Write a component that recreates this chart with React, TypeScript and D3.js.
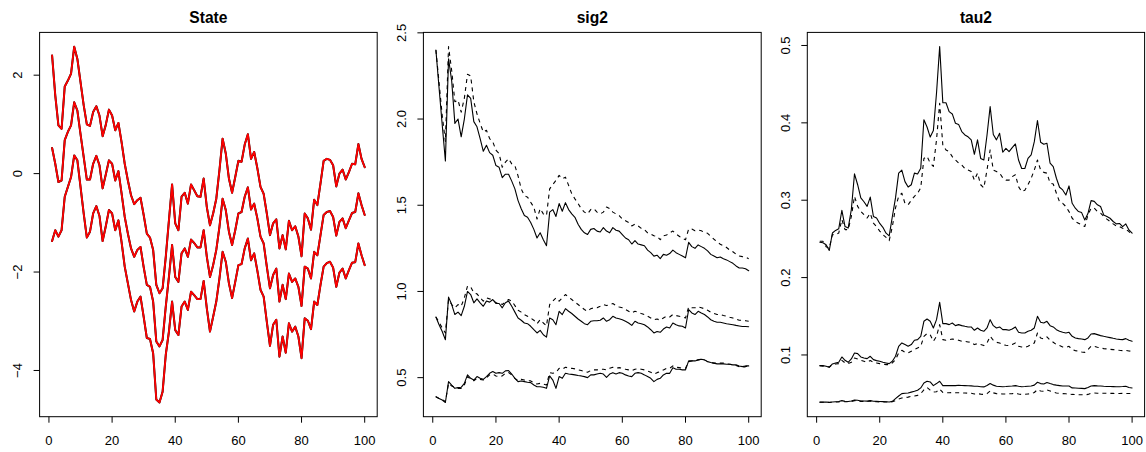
import React from 'react';
import * as d3 from 'd3';

// ---------- data ----------
const xTicks = [0, 20, 40, 60, 80, 100];

const stateUpper = [2.4,1.59,0.98,0.91,1.77,1.89,2.03,2.58,2.33,1.86,
1.39,1.0,0.97,1.25,1.37,1.18,0.76,0.99,1.3,1.18,
0.88,1.03,0.64,0.2,-0.14,-0.44,-0.62,-0.54,-0.49,-0.84,
-1.22,-1.3,-1.55,-2.26,-2.43,-2.33,-1.69,-0.95,-0.22,-1.01,
-1.15,-0.47,-0.39,-0.61,-0.22,-0.34,-0.46,-0.47,-0.1,-0.68,
-1.05,-0.81,-0.51,0.07,0.71,0.41,-0.1,-0.39,-0.07,0.26,
0.24,0.59,0.8,0.3,0.44,0.11,-0.27,-0.41,-0.81,-1.25,
-1.01,-0.93,-1.52,-1.25,-1.54,-0.96,-1.15,-1.07,-1.28,-1.68,
-0.81,-0.91,-1.14,-0.53,-0.64,-0.2,0.26,0.3,0.28,0.17,
-0.26,0.0,0.08,-0.12,0.03,0.2,0.19,0.6,0.3,0.13];

const stateMid = [0.52,0.2,-0.17,-0.14,0.68,0.85,0.98,1.45,1.28,0.8,
0.34,-0.12,-0.12,0.2,0.36,0.17,-0.3,-0.02,0.27,0.2,
-0.14,0.05,-0.4,-0.88,-1.22,-1.52,-1.69,-1.55,-1.49,-1.9,
-2.26,-2.3,-2.6,-3.41,-3.51,-3.38,-2.7,-2.1,-1.45,-2.1,
-2.2,-1.62,-1.52,-1.69,-1.34,-1.41,-1.5,-1.5,-1.15,-1.69,
-2.1,-1.86,-1.55,-1.08,-0.51,-0.74,-1.18,-1.45,-1.15,-0.81,
-0.78,-0.47,-0.28,-0.73,-0.61,-0.91,-1.28,-1.42,-1.89,-2.33,
-2.06,-1.93,-2.6,-2.26,-2.55,-2.03,-2.2,-2.13,-2.3,-2.69,
-1.89,-1.93,-2.13,-1.59,-1.66,-1.25,-0.84,-0.78,-0.76,-0.88,
-1.26,-0.98,-0.91,-1.11,-0.95,-0.8,-0.78,-0.4,-0.64,-0.84];

const stateLower = [-1.37,-1.15,-1.28,-1.15,-0.47,-0.27,-0.07,0.37,0.27,-0.27,
-0.81,-1.3,-1.18,-0.81,-0.66,-0.86,-1.37,-1.07,-0.74,-0.81,
-1.15,-0.95,-1.39,-1.89,-2.23,-2.57,-2.8,-2.6,-2.5,-2.91,
-3.34,-3.36,-3.65,-4.59,-4.65,-4.43,-3.68,-3.21,-2.6,-3.18,
-3.28,-2.7,-2.6,-2.77,-2.4,-2.47,-2.55,-2.55,-2.18,-2.74,
-3.21,-2.91,-2.6,-2.13,-1.59,-1.79,-2.23,-2.53,-2.2,-1.86,
-1.84,-1.52,-1.32,-1.76,-1.62,-1.97,-2.36,-2.5,-3.01,-3.5,
-3.07,-2.97,-3.72,-3.31,-3.64,-3.04,-3.21,-3.11,-3.31,-3.75,
-2.94,-2.99,-3.16,-2.6,-2.67,-2.26,-1.89,-1.82,-1.79,-1.91,
-2.3,-2.01,-1.93,-2.13,-1.96,-1.81,-1.8,-1.42,-1.66,-1.86];

const sig2UpperSolid = [2.40,2.18,1.965,1.757,2.35,2.22,1.975,2.0,1.897,2.0,
2.14,2.12,1.985,1.955,1.887,1.813,1.848,1.805,1.79,1.73,
1.72,1.66,1.68,1.68,1.64,1.595,1.527,1.48,1.44,1.43,
1.40,1.36,1.31,1.34,1.30,1.265,1.46,1.475,1.435,1.51,
1.465,1.515,1.475,1.45,1.43,1.39,1.36,1.34,1.33,1.36,
1.365,1.35,1.345,1.37,1.35,1.34,1.37,1.355,1.35,1.33,
1.31,1.30,1.275,1.295,1.275,1.27,1.265,1.24,1.225,1.205,
1.21,1.19,1.215,1.21,1.22,1.24,1.225,1.215,1.205,1.195,
1.285,1.26,1.25,1.27,1.26,1.25,1.235,1.215,1.205,1.195,
1.2,1.19,1.183,1.173,1.163,1.148,1.136,1.136,1.132,1.12];

const sig2UpperDashed = [2.40,2.21,2.02,1.87,2.42,2.28,2.1,2.11,2.04,2.12,
2.26,2.25,2.1,2.03,1.975,1.925,1.935,1.887,1.868,1.82,
1.80,1.72,1.75,1.77,1.74,1.73,1.67,1.595,1.556,1.547,
1.517,1.488,1.42,1.48,1.45,1.44,1.595,1.62,1.644,1.673,
1.654,1.663,1.615,1.566,1.537,1.51,1.48,1.46,1.45,1.475,
1.48,1.46,1.45,1.46,1.49,1.48,1.46,1.45,1.44,1.42,
1.41,1.40,1.38,1.39,1.38,1.366,1.358,1.34,1.333,1.323,
1.32,1.30,1.323,1.327,1.34,1.35,1.333,1.32,1.307,1.30,
1.362,1.362,1.352,1.356,1.352,1.342,1.337,1.32,1.303,1.288,
1.274,1.265,1.255,1.24,1.23,1.216,1.206,1.202,1.2,1.19];

const sig2MidSolid = [0.852,0.807,0.768,0.72,0.967,0.924,0.866,0.88,0.86,0.914,
1.0,0.982,0.934,0.957,0.934,0.914,0.944,0.938,0.953,0.93,
0.93,0.905,0.934,0.944,0.914,0.88,0.846,0.833,0.817,0.813,
0.798,0.778,0.759,0.774,0.749,0.735,0.846,0.836,0.807,0.885,
0.866,0.9,0.885,0.872,0.856,0.84,0.827,0.813,0.807,0.827,
0.83,0.83,0.833,0.846,0.827,0.836,0.856,0.846,0.842,0.836,
0.827,0.817,0.803,0.827,0.817,0.813,0.807,0.794,0.778,0.759,
0.768,0.763,0.782,0.794,0.788,0.817,0.807,0.8,0.798,0.788,
0.895,0.875,0.866,0.885,0.875,0.866,0.852,0.836,0.827,0.821,
0.821,0.817,0.813,0.81,0.807,0.803,0.8,0.797,0.797,0.795];

const sig2MidDashed = [0.852,0.821,0.788,0.759,0.953,0.924,0.905,0.924,0.914,0.963,
1.031,1.027,0.992,0.986,0.963,0.944,0.963,0.957,0.953,0.934,
0.934,0.924,0.938,0.953,0.944,0.918,0.891,0.88,0.866,0.856,
0.846,0.833,0.813,0.836,0.817,0.8,0.924,0.944,0.963,0.944,
0.963,0.982,0.967,0.953,0.938,0.924,0.91,0.895,0.885,0.9,
0.905,0.905,0.914,0.924,0.918,0.924,0.93,0.918,0.91,0.905,
0.895,0.885,0.875,0.885,0.88,0.872,0.866,0.856,0.846,0.836,
0.84,0.833,0.846,0.856,0.852,0.866,0.86,0.856,0.852,0.846,
0.91,0.905,0.905,0.91,0.905,0.9,0.891,0.88,0.872,0.866,
0.866,0.86,0.856,0.85,0.846,0.84,0.833,0.833,0.83,0.827];

const sig2LowSolid = [0.389,0.379,0.37,0.356,0.477,0.457,0.438,0.442,0.444,0.467,
0.516,0.496,0.486,0.506,0.496,0.49,0.506,0.525,0.535,0.525,
0.529,0.525,0.539,0.541,0.521,0.496,0.477,0.481,0.477,0.473,
0.471,0.457,0.447,0.447,0.444,0.438,0.51,0.486,0.438,0.506,
0.496,0.525,0.521,0.519,0.516,0.512,0.51,0.506,0.5,0.516,
0.516,0.521,0.525,0.521,0.502,0.521,0.529,0.521,0.529,0.525,
0.516,0.51,0.506,0.525,0.529,0.525,0.516,0.506,0.496,0.477,
0.49,0.496,0.516,0.525,0.525,0.558,0.549,0.549,0.545,0.545,
0.597,0.597,0.597,0.603,0.607,0.603,0.593,0.588,0.584,0.58,
0.58,0.58,0.578,0.578,0.574,0.574,0.568,0.564,0.568,0.568];

const sig2LowDashed = [0.389,0.379,0.374,0.36,0.467,0.451,0.444,0.438,0.438,0.457,
0.506,0.49,0.482,0.496,0.49,0.486,0.5,0.516,0.521,0.51,
0.506,0.51,0.525,0.529,0.516,0.496,0.482,0.49,0.486,0.482,
0.481,0.471,0.463,0.467,0.463,0.457,0.529,0.525,0.529,0.554,
0.549,0.56,0.556,0.554,0.551,0.545,0.541,0.535,0.531,0.541,
0.545,0.545,0.549,0.549,0.545,0.554,0.56,0.554,0.558,0.554,
0.549,0.545,0.541,0.549,0.551,0.549,0.545,0.539,0.531,0.521,
0.529,0.535,0.545,0.554,0.554,0.568,0.56,0.558,0.554,0.554,
0.593,0.597,0.599,0.603,0.607,0.603,0.593,0.588,0.584,0.584,
0.584,0.584,0.58,0.578,0.574,0.57,0.564,0.56,0.564,0.568];

const tau2UpperSolid = [0.2456,0.245,0.2425,0.235,0.2576,0.261,0.263,0.287,0.266,0.264,
0.288,0.334,0.32,0.303,0.298,0.292,0.304,0.279,0.277,0.27,
0.265,0.2574,0.2539,0.279,0.303,0.335,0.339,0.324,0.317,0.32,
0.335,0.334,0.3413,0.404,0.3946,0.3816,0.39,0.4385,0.4985,0.426,
0.426,0.4145,0.4115,0.3995,0.398,0.3887,0.3844,0.382,0.378,0.3594,
0.378,0.354,0.352,0.384,0.421,0.385,0.378,0.3865,0.362,0.367,
0.3628,0.368,0.3727,0.352,0.341,0.341,0.354,0.3585,0.3757,0.403,
0.375,0.3723,0.3736,0.348,0.3434,0.3284,0.3168,0.3133,0.3068,0.3185,
0.296,0.2897,0.2853,0.284,0.2745,0.2827,0.2995,0.2985,0.294,0.2918,
0.281,0.279,0.2767,0.2725,0.2694,0.270,0.2659,0.2694,0.2616,0.2574];

const tau2UpperDashed = [0.247,0.247,0.240,0.238,0.2555,0.2555,0.2576,0.275,0.262,0.262,
0.279,0.305,0.292,0.2856,0.2813,0.277,0.283,0.2705,0.266,0.26,
0.2555,0.252,0.2478,0.266,0.29,0.305,0.309,0.296,0.294,0.30,
0.305,0.309,0.316,0.354,0.3567,0.348,0.3437,0.378,0.4253,0.371,
0.365,0.3628,0.3563,0.352,0.348,0.3456,0.341,0.339,0.337,0.326,
0.335,0.32,0.316,0.339,0.365,0.339,0.337,0.335,0.329,0.326,
0.326,0.3305,0.333,0.3176,0.311,0.313,0.32,0.3284,0.339,0.352,
0.339,0.336,0.335,0.322,0.321,0.309,0.298,0.296,0.2918,0.2853,
0.2767,0.2725,0.2703,0.268,0.266,0.281,0.2897,0.2897,0.2853,0.2832,
0.279,0.2755,0.2725,0.2694,0.2668,0.266,0.2638,0.2625,0.2595,0.2552];

const tau2MidSolid = [0.0862,0.0862,0.0854,0.084,0.0884,0.0897,0.0905,0.0974,0.0931,0.0905,
0.0948,0.1026,0.1017,0.0974,0.0961,0.0953,0.0983,0.094,0.0927,0.0918,
0.0905,0.0897,0.0888,0.0918,0.0983,0.1112,0.1155,0.1134,0.1112,0.1134,
0.119,0.1198,0.1241,0.1435,0.1465,0.1435,0.1349,0.1456,0.168,0.1405,
0.1405,0.1392,0.1413,0.1379,0.1392,0.1379,0.137,0.1362,0.1362,0.1319,
0.1349,0.1319,0.1306,0.1349,0.1456,0.1379,0.1349,0.1362,0.1327,0.1327,
0.1319,0.1336,0.1362,0.1293,0.1284,0.1284,0.1306,0.1319,0.1349,0.15,
0.1422,0.1413,0.1435,0.1379,0.1362,0.1327,0.1306,0.1293,0.1284,0.1293,
0.1241,0.122,0.1211,0.1207,0.1198,0.122,0.1271,0.1276,0.1263,0.125,
0.1241,0.1233,0.1224,0.1215,0.1207,0.1202,0.1198,0.1211,0.119,0.1177];

const tau2MidDashed = [0.0862,0.0854,0.0854,0.0845,0.0875,0.0884,0.0888,0.0931,0.0897,0.0888,
0.0905,0.0961,0.0948,0.0931,0.0918,0.0905,0.0927,0.0905,0.0897,0.0888,
0.0884,0.0875,0.0875,0.0897,0.094,0.1026,0.106,0.1034,0.1026,0.1047,
0.1069,0.109,0.1112,0.1241,0.1276,0.1263,0.1177,0.1241,0.1392,0.1198,
0.119,0.1198,0.1207,0.1198,0.119,0.1177,0.1177,0.1168,0.1164,0.1134,
0.1146,0.1134,0.1121,0.1155,0.1241,0.119,0.1164,0.1155,0.1134,0.1125,
0.1121,0.1134,0.1155,0.1112,0.1103,0.1099,0.1112,0.1134,0.1155,0.1284,
0.122,0.1207,0.1233,0.119,0.1164,0.1134,0.1121,0.1103,0.1099,0.1112,
0.1069,0.1056,0.1047,0.1039,0.1034,0.1069,0.1112,0.1112,0.1099,0.109,
0.1082,0.1078,0.1073,0.1069,0.1065,0.106,0.1056,0.106,0.1052,0.1047];

const tau2LowSolid = [0.039,0.039,0.039,0.0388,0.0392,0.0395,0.0398,0.041,0.0402,0.0398,
0.0405,0.0418,0.0415,0.0405,0.0405,0.0403,0.041,0.0402,0.04,0.0398,
0.0397,0.0395,0.0392,0.040,0.0435,0.047,0.05,0.0505,0.0509,0.052,
0.053,0.0544,0.0574,0.0638,0.066,0.0651,0.0604,0.063,0.066,0.0604,
0.0604,0.0604,0.0606,0.0604,0.0608,0.0606,0.0604,0.0602,0.06,0.0595,
0.0595,0.059,0.0587,0.0605,0.063,0.061,0.0595,0.0593,0.059,0.0592,
0.0595,0.0598,0.0604,0.0595,0.059,0.0592,0.0595,0.0598,0.061,0.0647,
0.063,0.0625,0.0645,0.063,0.0617,0.061,0.0604,0.0598,0.0598,0.0598,
0.0574,0.0572,0.057,0.0568,0.0565,0.058,0.0598,0.0604,0.06,0.0598,
0.0595,0.0593,0.0592,0.0591,0.059,0.059,0.0592,0.0595,0.058,0.0574];

const tau2LowDashed = [0.0388,0.0388,0.0388,0.0386,0.039,0.0392,0.0394,0.0402,0.0396,0.0394,
0.0398,0.041,0.0408,0.04,0.04,0.0398,0.0405,0.0398,0.0396,0.0394,
0.0393,0.0392,0.039,0.0395,0.041,0.043,0.0444,0.0448,0.0455,0.0466,
0.047,0.0478,0.05,0.055,0.058,0.0545,0.052,0.0525,0.056,0.0515,
0.0512,0.0512,0.0514,0.0512,0.0512,0.051,0.0508,0.0506,0.0505,0.0496,
0.05,0.0494,0.049,0.05,0.0535,0.051,0.05,0.0498,0.0496,0.0496,
0.0498,0.05,0.0505,0.0496,0.049,0.0492,0.0496,0.05,0.0515,0.0552,
0.0535,0.053,0.0548,0.0535,0.052,0.0508,0.0505,0.05,0.0498,0.0496,
0.049,0.0488,0.0486,0.0486,0.0485,0.049,0.0505,0.0508,0.0506,0.0505,
0.0505,0.0504,0.0503,0.0503,0.0502,0.0502,0.0503,0.0503,0.0502,0.05];

const stateTicks = [-4, -2, 0, 2];
const sig2Ticks = [0.5, 1.0, 1.5, 2.0, 2.5];
const tau2Ticks = [0.1, 0.2, 0.3, 0.4, 0.5];

// ---------- drawing ----------
type Series = { values: number[]; color: string; width: number; dash?: string };

const FONT = '"Liberation Sans", Arial, Helvetica, sans-serif';
const TOP = 32.4;
const BOTTOM = 416.7;

function fmtTick(v: number, digits: number) {
  const s = v.toFixed(digits);
  return s.replace('-', '\u2212');
}

function Panel(props: { left: number; right: number; title: string; series: Series[]; yTicks: number[]; digits: number }) {
  const { left, right, title, series, yTicks, digits } = props;
  const all = series.flatMap((s) => s.values);
  const mn = d3.min(all) as number;
  const mx = d3.max(all) as number;
  const pad = (mx - mn) * 0.04;
  const x = d3.scaleLinear().domain([1 - 99 * 0.04, 100 + 99 * 0.04]).range([left, right]);
  const y = d3.scaleLinear().domain([mn - pad, mx + pad]).range([BOTTOM, TOP]);
  const line = d3
    .line<number>()
    .x((_, i) => x(i + 1))
    .y((d) => y(d));
  const cx = (left + right) / 2;
  return (
    <g>
      <text x={cx} y={22.5} textAnchor="middle" fontFamily={FONT} fontWeight="bold" fontSize={15.6} fill="#000">
        {title}
      </text>
      {series.map((s, i) => (
        <path
          key={i}
          d={line(s.values) || ''}
          fill="none"
          stroke={s.color}
          strokeWidth={s.width}
          strokeDasharray={s.dash}
          strokeLinejoin="round"
          strokeLinecap={s.dash ? 'butt' : 'round'}
        />
      ))}
      <rect x={left} y={TOP} width={right - left} height={BOTTOM - TOP} fill="none" stroke="#000" strokeWidth={1} />
      {xTicks.map((t) => (
        <g key={'x' + t}>
          <line x1={x(t)} x2={x(t)} y1={BOTTOM} y2={BOTTOM + 6} stroke="#000" strokeWidth={1} />
          <text x={x(t)} y={445} textAnchor="middle" fontFamily={FONT} fontSize={13} fill="#000">
            {String(t)}
          </text>
        </g>
      ))}
      {yTicks.map((t) => (
        <g key={'y' + t}>
          <line x1={left - 6} x2={left} y1={y(t)} y2={y(t)} stroke="#000" strokeWidth={1} />
          <text
            x={left - 17.6}
            y={y(t)}
            transform={`rotate(-90, ${left - 17.6}, ${y(t)})`}
            textAnchor="middle"
            fontFamily={FONT}
            fontSize={13}
            fill="#000"
          >
            {fmtTick(t, digits)}
          </text>
        </g>
      ))}
    </g>
  );
}

export default function App() {
  const stateSeries: Series[] = [
    { values: stateUpper, color: '#000', width: 2.0 },
    { values: stateMid, color: '#000', width: 2.0 },
    { values: stateLower, color: '#000', width: 2.0 },
    { values: stateUpper, color: '#ff0000', width: 1.8 },
    { values: stateMid, color: '#ff0000', width: 1.8 },
    { values: stateLower, color: '#ff0000', width: 1.8 },
  ];
  const sig2Series: Series[] = [
    { values: sig2UpperSolid, color: '#000', width: 1.1 },
    { values: sig2UpperDashed, color: '#000', width: 1.1, dash: '4,4' },
    { values: sig2MidSolid, color: '#000', width: 1.1 },
    { values: sig2MidDashed, color: '#000', width: 1.1, dash: '4,4' },
    { values: sig2LowSolid, color: '#000', width: 1.1 },
    { values: sig2LowDashed, color: '#000', width: 1.1, dash: '4,4' },
  ];
  const tau2Series: Series[] = [
    { values: tau2UpperSolid, color: '#000', width: 1.1 },
    { values: tau2UpperDashed, color: '#000', width: 1.1, dash: '4,4' },
    { values: tau2MidSolid, color: '#000', width: 1.1 },
    { values: tau2MidDashed, color: '#000', width: 1.1, dash: '4,4' },
    { values: tau2LowSolid, color: '#000', width: 1.1 },
    { values: tau2LowDashed, color: '#000', width: 1.1, dash: '4,4' },
  ];
  return (
    <svg
      width={1146}
      height={452}
      viewBox="0 0 1146 452"
      style={{ position: 'absolute', left: 0, top: 0, background: '#fff' }}
    >
      <rect x={0} y={0} width={1146} height={452} fill="#fff" />
      <Panel left={39.6} right={377.2} title="State" series={stateSeries} yTicks={stateTicks} digits={0} />
      <Panel left={423.4} right={761.2} title="sig2" series={sig2Series} yTicks={sig2Ticks} digits={1} />
      <Panel left={807.3} right={1144.6} title="tau2" series={tau2Series} yTicks={tau2Ticks} digits={1} />
    </svg>
  );
}
